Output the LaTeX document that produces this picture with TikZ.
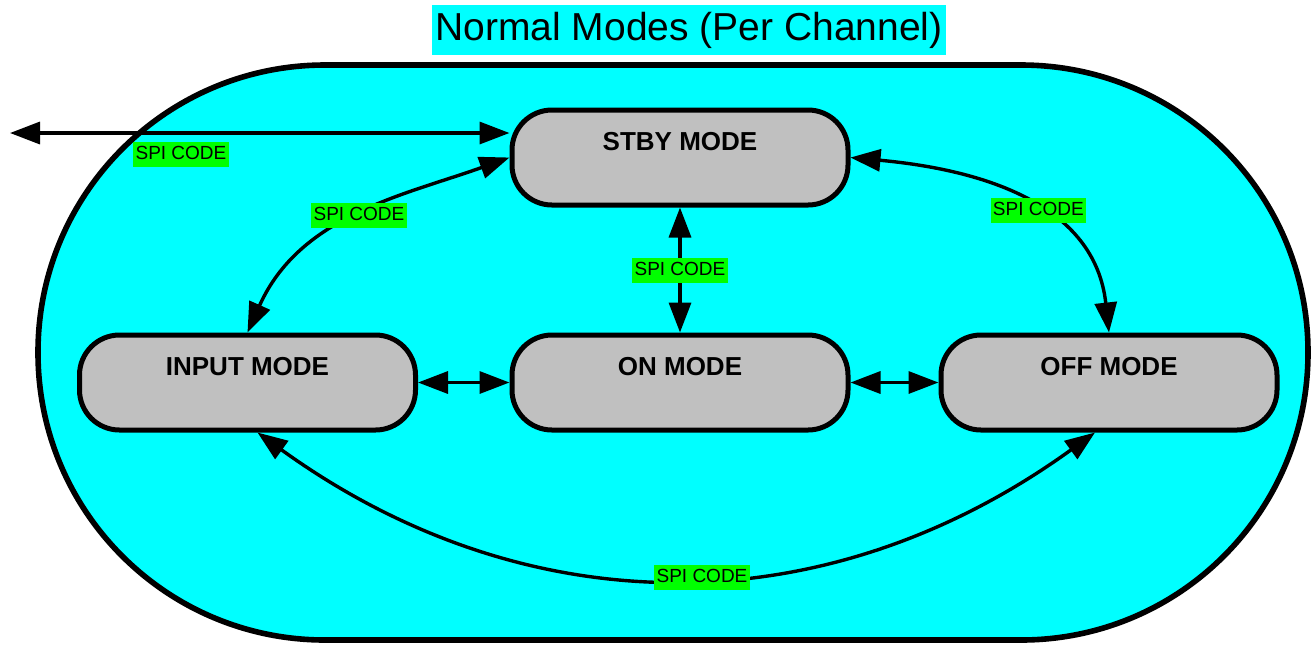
\documentclass[tikz,border=0pt]{standalone}
\usepackage{fontspec}
\setmainfont{Liberation Sans}
\usetikzlibrary{arrows.meta}
\definecolor{bgcyan}{HTML}{00FFFF}
\definecolor{lblgreen}{HTML}{00FF00}
\definecolor{modegray}{HTML}{C0C0C0}
\begin{document}
\begin{tikzpicture}[x=0.5pt,y=-0.5pt,
  mode/.style={draw=black, line width=2.5pt, fill=modegray, rounded corners=20pt,
    minimum width=168pt, minimum height=47.5pt,
    font=\bfseries\fontsize{13}{15}\selectfont, text height=9.5pt, text depth=17pt},
  conn/.style={line width=1.7pt, {Triangle[length=15pt,width=11pt]}-{Triangle[length=15pt,width=11pt]}},
  spi/.style={fill=lblgreen, font=\fontsize{9.5}{11}\selectfont, inner xsep=1.2pt,
    inner ysep=1.75pt, text height=7pt, text depth=2pt}]
\useasboundingbox (0,0) rectangle (1312,645);
\draw[line width=2.8pt, fill=bgcyan, rounded corners=143.5pt] (38,65) rectangle (1308,640);
\node[fill=bgcyan, font=\fontsize{19.5}{22}\selectfont, inner xsep=1.5pt, minimum height=25pt] (title) at (689,30) {Normal Modes (Per Channel)};
\node[mode] (stby) at (680,157.5) {STBY MODE};
\node[mode] (input) at (247.5,382.5) {INPUT MODE};
\node[mode] (on) at (680,382.5) {ON MODE};
\node[mode] (off) at (1109,382.5) {OFF MODE};
\coordinate (ext) at (10,133);
\draw[conn] (ext) -- (ext -| stby.west);
\node[spi] (l1) at (181,154) {SPI CODE};
\draw[conn] (stby.west) .. controls (405,195) and (300,215) .. node[spi,pos=0.5] (l2) {SPI CODE} (input.north);
\draw[conn] (stby.east) .. controls (985,170) and (1095,205) .. node[spi,pos=0.55] (l4) {SPI CODE} (off.north);
\draw[conn] (stby.south) -- node[spi] (l3) {SPI CODE} (on.north);
\draw[conn] (input.east) -- (on.west);
\draw[conn] (on.east) -- (off.west);
\draw[conn] ([xshift=5pt]input.south) .. controls (527,627) and (826,627) .. node[spi,pos=0.53] (l5) {SPI CODE} ([xshift=-7pt]off.south);
\end{tikzpicture}
\end{document}
